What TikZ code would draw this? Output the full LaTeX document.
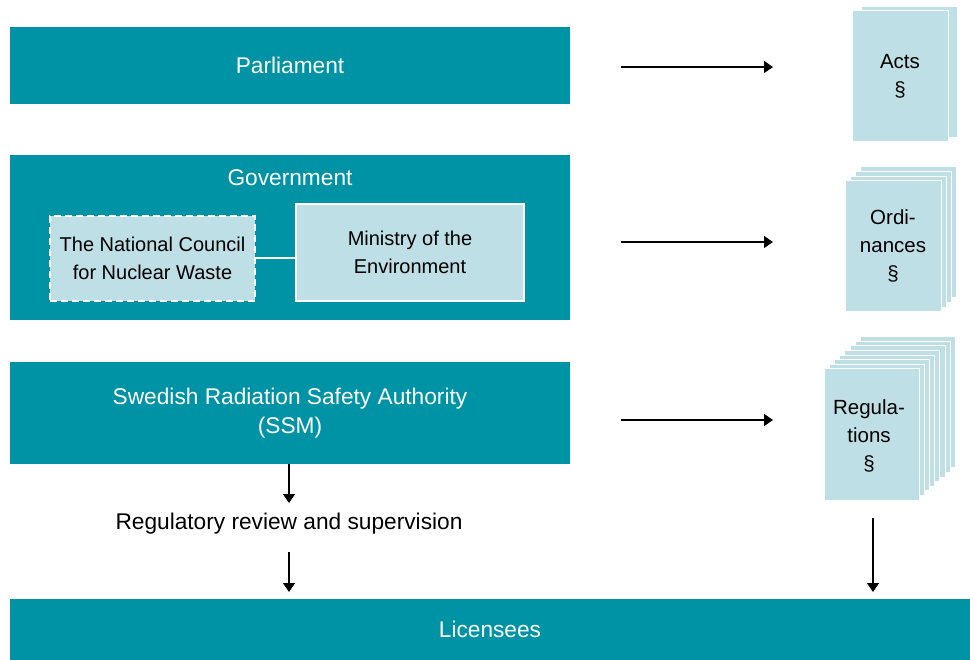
\documentclass[tikz,border=0pt]{standalone}
\usepackage{fontspec}
\setmainfont{Liberation Sans}
\usetikzlibrary{arrows.meta}
\definecolor{teal1}{HTML}{0093A6}
\definecolor{light1}{HTML}{BEDFE5}
\tikzset{
  bigbox/.style={fill=teal1, draw=none, text=white, font=\fontsize{22.7}{29}\selectfont, align=center, inner sep=0pt},
  innerbox/.style={fill=light1, draw=white, line width=1.2pt, font=\fontsize{20}{28}\selectfont, align=center, inner sep=0pt},
  sheet/.style={fill=light1, draw=white, line width=1pt},
  doclabel/.style={font=\fontsize{20.5}{28}\selectfont, align=center},
  arr/.style={line width=1.2pt, -{Triangle[length=9pt,width=12pt]}},
}
\begin{document}
\begin{tikzpicture}[x=1pt,y=-1pt]
\useasboundingbox (0,0) rectangle (970,660);
% Parliament
\node[bigbox, minimum width=560pt, minimum height=77pt] (parl) at (290,65.5) {Parliament};
% Government
\node[bigbox, minimum width=560pt, minimum height=165pt] (gov) at (290,237.5) {};
\node[text=white, font=\fontsize{22.7}{29}\selectfont] (govlabel) at (290,178) {Government};
\node[innerbox, dashed, dash pattern=on 7pt off 4pt, minimum width=205pt, minimum height=85pt] (council) at (152.5,258.5) {The National Council\\for Nuclear Waste};
\node[innerbox, minimum width=228pt, minimum height=97pt] (ministry) at (410,252.5) {Ministry of the\\Environment};
\draw[white, line width=2pt] (council.east) -- (council.east -| ministry.west);
% SSM
\node[bigbox, minimum width=560pt, minimum height=102pt] (ssm) at (290,413) {Swedish Radiation Safety Authority\\(SSM)};
% Licensees
\node[bigbox, minimum width=960pt, minimum height=61pt] (lic) at (490,629.5) {Licensees};
% Regulatory text
\node[font=\fontsize{22.7}{29}\selectfont, inner sep=0pt] (review) at (289,524) {Regulatory review and supervision};
% Documents: Acts
\foreach \i in {1,0} {
  \draw[sheet] ({852+9*\i},{11-4*\i}) rectangle ++(96,131);
}
\node[doclabel] (acts) at (900,76) {Acts\\§};
% Ordinances
\foreach \i in {3,2,1,0} {
  \draw[sheet] ({845+5.3*\i},{181-4.7*\i}) rectangle ++(96,131);
}
\node[doclabel] (ord) at (893,246) {Ordi-\\nances\\§};
% Regulations
\foreach \i in {7,6,5,4,3,2,1,0} {
  \draw[sheet] ({824+5.2*\i},{369-4.6*\i}) rectangle ++(95,131);
}
\node[doclabel] (reg) at (869,436) {Regula-\\tions\\§};
% arrow coordinates
\coordinate (a1s) at (621,67); \coordinate (a1e) at (773,67);
\coordinate (a2s) at (621,242); \coordinate (a2e) at (773,242);
\coordinate (a3s) at (621,420); \coordinate (a3e) at (773,420);
\coordinate (d1e) at (289,503);
\coordinate (d2s) at (289,552); \coordinate (d2e) at (289,592);
\coordinate (d3s) at (873,518); \coordinate (d3e) at (873,592);
\draw[arr] (a1s) -- (a1e);
\draw[arr] (a2s) -- (a2e);
\draw[arr] (a3s) -- (a3e);
\draw[arr] (ssm.south -| d1e) -- (d1e);
\draw[arr] (d2s) -- (d2e);
\draw[arr] (d3s) -- (d3e);
\end{tikzpicture}
\end{document}
